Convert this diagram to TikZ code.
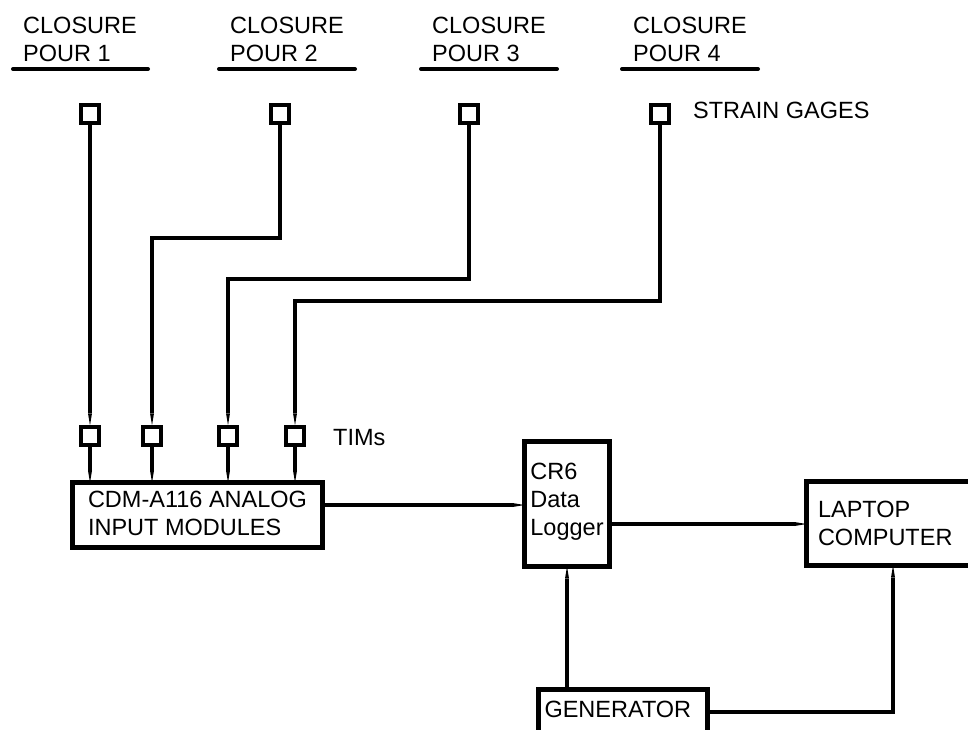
\documentclass[tikz,border=0pt]{standalone}
\usepackage{fontspec}
\setmainfont{Liberation Sans}
\usetikzlibrary{arrows.meta}
\begin{document}
\begin{tikzpicture}[x=1pt,y=-1pt,
  every node/.style={font=\fontsize{23.5}{28}\selectfont},
  gage/.style={draw, line width=3.5pt, minimum size=18pt, inner sep=0pt},
  box/.style={draw, line width=4.5pt, align=left, inner sep=0pt, outer sep=0pt},
  wire/.style={line width=3.5pt},
  arr/.style={line width=3.5pt, -{Triangle[length=12pt,width=4pt,line width=0pt]}},
  uline/.style={line width=4pt, line cap=round},
  lbl/.style={anchor=base west, inner sep=0pt, align=left}
]
\useasboundingbox (0,0) rectangle (968,729);
\clip (0,0) rectangle (968,729);

% titles
\node[lbl] (c1) at (23,61) {CLOSURE\\POUR 1};
\node[lbl] (c2) at (230,61) {CLOSURE\\POUR 2};
\node[lbl] (c3) at (432,61) {CLOSURE\\POUR 3};
\node[lbl] (c4) at (633,61) {CLOSURE\\POUR 4};
\draw[uline] (13,69) -- (148,69);
\draw[uline] (219,69) -- (355,69);
\draw[uline] (421,69) -- (557,69);
\draw[uline] (622,69) -- (758,69);

% strain gages
\node[gage] (g1) at (90,114) {};
\node[gage] (g2) at (280,114) {};
\node[gage] (g3) at (469,114) {};
\node[gage] (g4) at (660,114) {};
\node[lbl] (sg) at (693,118) {STRAIN GAGES};

% TIMs
\node[gage] (t1) at (90,436) {};
\node[gage] (t2) at (152,436) {};
\node[gage] (t3) at (228,436) {};
\node[gage] (t4) at (295,436) {};
\node[lbl] (tl) at (333,445) {TIMs};

% boxes
\node[box, minimum width=250pt, minimum height=65pt, text depth=3pt] (mod) at (197.5,515) {CDM-A116 ANALOG\\INPUT MODULES};
\node[box, minimum width=85pt, minimum height=125pt, text depth=10pt] (cr) at (567,504) {CR6\\Data\\Logger};
\node[box, anchor=north west, text width=155pt, inner xsep=11.5pt, minimum height=84pt] (lap) at (806.5,481.5) {LAPTOP\\COMPUTER};
\node[box, anchor=north west, text width=157pt, inner xsep=6pt, text height=27.5pt, text depth=20pt] (gen) at (538.5,689.5) {GENERATOR};

% gage wires
\draw[arr] (g1.south) -- (t1.north);
\draw[arr] (g2.south) -- (g2.south |- 0,238) -| (t2.north);
\draw[arr] (g3.south) -- (g3.south |- 0,279) -| (t3.north);
\draw[arr] (g4.south) -- (g4.south |- 0,301) -| (t4.north);

% TIMs to modules
\foreach \t in {t1,t2,t3,t4} \draw[arr] (\t.south) -- (\t.south |- mod.north);

% data flow
\draw[arr] (mod.east |- 0,505) -- (cr.west |- 0,505);
\draw[arr, line width=4.5pt] (cr.east |- 0,524) -- (lap.west |- 0,524);
\draw[arr] (gen.north -| cr.south) -- (cr.south);
\draw[arr] (gen.east |- 0,712) -| (893,0 |- lap.south);
\end{tikzpicture}
\end{document}
